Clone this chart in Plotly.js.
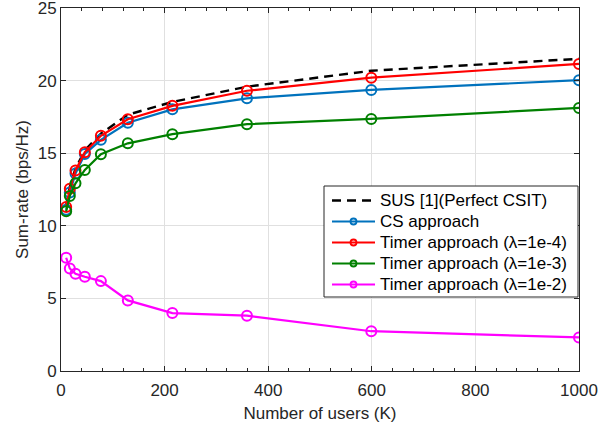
<!DOCTYPE html>
<html>
<head>
<meta charset="utf-8">
<script src="https://cdn.plot.ly/plotly-3.0.1.min.js"></script>
<style>html,body{margin:0;padding:0;background:#fff;}#chart{width:613px;height:423px;}</style>
</head>
<body>
<div id="chart"></div>
<script>
const users = [10, 17, 28, 46, 77, 129, 215, 359, 599, 1000];
const susPerfect = [11.4, 12.7, 13.95, 15.2, 16.35, 17.65, 18.53, 19.58, 20.68, 21.5];
const csApproach = [11.1, 12.3, 13.6, 14.95, 15.92, 17.1, 18.02, 18.78, 19.36, 20.03];
const timer1e4 = [11.29, 12.55, 13.81, 15.07, 16.2, 17.34, 18.26, 19.3, 20.2, 21.15];
const timer1e3 = [11.0, 12.06, 12.93, 13.85, 14.93, 15.68, 16.31, 17.0, 17.36, 18.12];
const timer1e2 = [7.8, 7.06, 6.7, 6.49, 6.19, 4.86, 3.99, 3.81, 2.74, 2.31];
const seriesNames = ['SUS [1](Perfect CSIT)', 'CS approach', 'Timer approach (λ=1e-4)', 'Timer approach (λ=1e-3)', 'Timer approach (λ=1e-2)'];
const seriesColors = ['#000000', '#0072BD', '#FF0000', '#008000', '#FF00FF'];
const xTitle = 'Number of users (K)';
const yTitle = 'Sum-rate (bps/Hz)';

const W = 613, H = 423;
const M = {l: 61, r: 34, t: 8, b: 52};
const PW = W - M.l - M.r, PH = H - M.t - M.b;
const px2x = (p) => (p - M.l) / PW;
const px2y = (p) => (H - M.b - p) / PH;

const font = {family: 'Liberation Sans, Arial, sans-serif', size: 17, color: '#262626'};
const mk = (c) => ({symbol: 'circle-open', size: 10, color: c, line: {width: 2, color: c}});
const seriesY = [susPerfect, csApproach, timer1e4, timer1e3, timer1e2];

const traces = seriesY.map((ys, i) => {
  const t = {x: users, y: ys, name: seriesNames[i], showlegend: false};
  if (i === 0) {
    t.mode = 'lines';
    t.line = {color: seriesColors[i], width: 2.4, dash: '9px,6px'};
  } else {
    t.mode = 'lines+markers';
    t.line = {color: seriesColors[i], width: 2.2};
    t.marker = mk(seriesColors[i]);
  }
  return t;
});

// custom legend (MATLAB-style box)
const legBox = {left: 324, right: 578, top: 186, bottom: 297};
const rowY0 = 200.5, rowStep = 21;
const shapes = [{
  type: 'rect', xref: 'paper', yref: 'paper', layer: 'above',
  x0: px2x(legBox.left), x1: px2x(legBox.right), y0: px2y(legBox.bottom), y1: px2y(legBox.top),
  fillcolor: '#ffffff', line: {color: '#262626', width: 1}
}];
const annotations = [];
seriesNames.forEach((name, i) => {
  const yy = px2y(rowY0 + rowStep * i);
  shapes.push({
    type: 'line', xref: 'paper', yref: 'paper', layer: 'above',
    x0: px2x(332), x1: px2x(375), y0: yy, y1: yy,
    line: {color: seriesColors[i], width: i === 0 ? 2.4 : 2.2, dash: i === 0 ? '9px,6px' : 'solid'}
  });
  if (i > 0) {
    shapes.push({
      type: 'circle', xref: 'paper', yref: 'paper', layer: 'above',
      xsizemode: 'pixel', ysizemode: 'pixel', xanchor: px2x(353.5), yanchor: yy,
      x0: -3, x1: 3, y0: -3, y1: 3,
      line: {color: seriesColors[i], width: 1.8}, fillcolor: 'rgba(0,0,0,0)'
    });
  }
  annotations.push({
    xref: 'paper', yref: 'paper', x: px2x(378), y: yy, xanchor: 'left', yanchor: 'middle',
    text: name, showarrow: false, font: {family: font.family, size: 17, color: '#000000'}
  });
});

const axisCommon = {
  showline: true, linecolor: '#262626', linewidth: 1, mirror: 'ticks',
  ticks: 'inside', ticklen: 5, tickwidth: 1, tickcolor: '#262626',
  showgrid: true, gridcolor: '#e0e0e0', gridwidth: 1, zeroline: false,
  tickfont: font, ticklabeloverflow: 'allow'
};

const layout = {
  width: W, height: H,
  margin: M,
  paper_bgcolor: '#ffffff', plot_bgcolor: '#ffffff',
  font: font,
  showlegend: false,
  shapes: shapes,
  annotations: annotations,
  xaxis: Object.assign({}, axisCommon, {
    range: [0, 1000], dtick: 200, tick0: 0, ticklabelstandoff: 4,
    minor: {dtick: 40, ticks: 'inside', ticklen: 3, tickcolor: '#262626', showgrid: false},
    title: {text: xTitle, font: font, standoff: 8}
  }),
  yaxis: Object.assign({}, axisCommon, {
    range: [0, 25], dtick: 5, tick0: 0,
    title: {text: yTitle, font: font, standoff: 4}
  })
};

Plotly.newPlot('chart', traces, layout, {displayModeBar: false, staticPlot: true});
</script>
</body>
</html>
